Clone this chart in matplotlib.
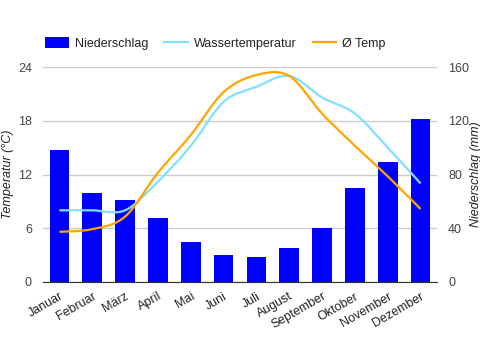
import matplotlib.pyplot as plt
from matplotlib.path import Path
from matplotlib.patches import PathPatch, Patch
from matplotlib.lines import Line2D

months = ["Januar", "Februar", "März", "April", "Mai", "Juni", "Juli",
          "August", "September", "Oktober", "November", "Dezember"]
niederschlag = [98, 66, 61, 48, 30, 20, 18.6, 25, 40, 70, 89, 121]
wassertemp = [8.0, 8.0, 8.0, 11.2, 15.2, 20.1, 21.8, 23.0, 20.6, 18.8, 15.0, 11.0]
avg_temp = [5.6, 5.9, 7.3, 12.2, 16.4, 21.2, 23.1, 23.0, 18.8, 15.2, 11.8, 8.15]

plt.rcParams['font.family'] = ['Liberation Sans', 'DejaVu Sans']
plt.rcParams['font.size'] = 9


def smooth_path(xs, ys):
    # cubic bezier through the points (catmull-rom style control points)
    pts = list(zip(xs, ys))
    verts = [pts[0]]
    codes = [Path.MOVETO]
    n = len(pts)
    for i in range(n - 1):
        p0 = pts[max(i - 1, 0)]
        p1 = pts[i]
        p2 = pts[i + 1]
        p3 = pts[min(i + 2, n - 1)]
        c1 = (p1[0] + (p2[0] - p0[0]) / 6, p1[1] + (p2[1] - p0[1]) / 6)
        c2 = (p2[0] - (p3[0] - p1[0]) / 6, p2[1] - (p3[1] - p1[1]) / 6)
        verts += [c1, c2, p2]
        codes += [Path.CURVE4] * 3
    return Path(verts, codes)


fig = plt.figure(figsize=(4.81, 3.5), dpi=100)
ax = fig.add_axes([43 / 481, 68 / 350, 394 / 481, 215 / 350])
ax2 = ax.twinx()

x = range(len(months))
ax.bar(x, niederschlag, width=0.6, color="#0000ff", zorder=2)
ax.set_ylim(0, 160)
ax.set_yticks([0, 40, 80, 120, 160])
ax.set_xlim(-0.5, 11.5)
ax.yaxis.tick_right()
ax.set_ylabel("Niederschlag (mm)", style="italic", color="#222222")
ax.yaxis.set_label_position("right")
ax.yaxis.set_label_coords((470 - 43) / 394, 0.5)
ax.grid(axis="y", color="#cccccc", linewidth=1)
ax.set_axisbelow(True)

water_line = PathPatch(smooth_path(list(x), wassertemp), facecolor="none",
                       edgecolor="#80e0ff", linewidth=1.6)
temp_line = PathPatch(smooth_path(list(x), avg_temp), facecolor="none",
                      edgecolor="#ffa500", linewidth=1.6)
ax2.add_patch(water_line)
ax2.add_patch(temp_line)
ax2.set_ylim(0, 24)
ax2.set_yticks([0, 6, 12, 18, 24])
ax2.yaxis.tick_left()
ax2.set_ylabel("Temperatur (°C)", style="italic", color="#222222")
ax2.yaxis.set_label_position("left")
ax2.yaxis.set_label_coords((14 - 43) / 394, 0.5)

for a in (ax, ax2):
    for s in ["top", "left", "right"]:
        a.spines[s].set_visible(False)
    a.spines["bottom"].set_color("#333333")
    a.tick_params(axis="y", length=0, colors="#444444", pad=8)
ax2.spines["bottom"].set_visible(False)

ax.set_xticks(list(x))
ax.set_xticklabels(months, rotation=30, ha="right", rotation_mode="anchor")
ax.tick_params(axis="x", length=0, colors="#222222", pad=6)

handles = [Patch(facecolor="#0000ff"),
           Line2D([], [], color="#80e0ff", linewidth=1.6),
           Line2D([], [], color="#ffa500", linewidth=1.6)]
fig.legend(handles, ["Niederschlag", "Wassertemperatur", "Ø Temp"],
           loc="upper left", bbox_to_anchor=(34 / 481, 1 - 26 / 350),
           ncol=3, frameon=False, handlelength=1.9, handleheight=0.9,
           handletextpad=0.45, columnspacing=1.3, labelcolor="#222222")

fig.savefig("out.png", dpi=100)
